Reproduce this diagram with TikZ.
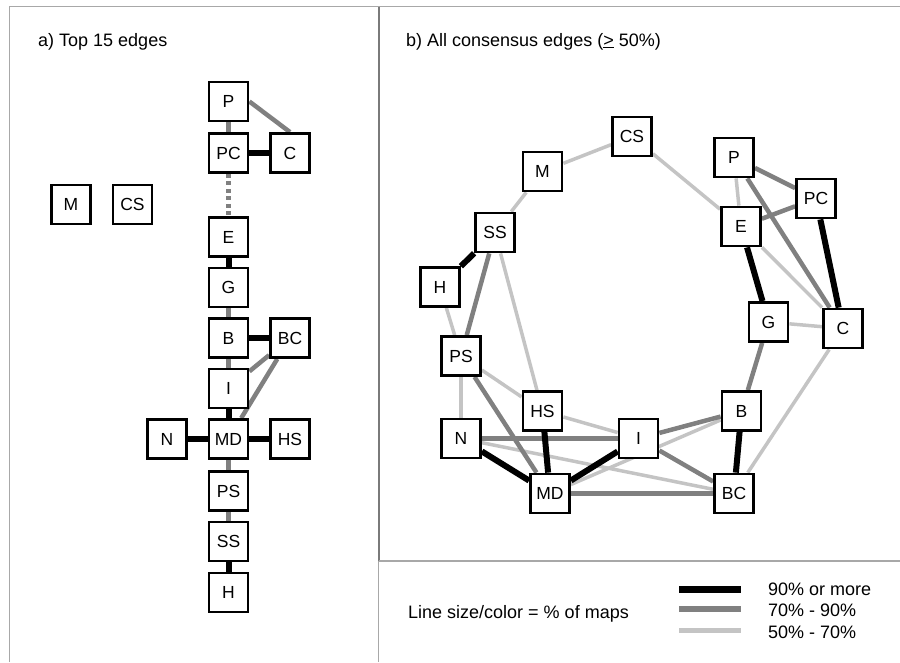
\documentclass[tikz,border=0pt]{standalone}
\usepackage{fontspec}
\setmainfont{Liberation Sans}
\usetikzlibrary{backgrounds}
\definecolor{colMid}{HTML}{808080}
\definecolor{colLight}{HTML}{C4C4C4}
\definecolor{colFrame}{HTML}{A8A8A8}
\definecolor{colDiv}{HTML}{7A7A7A}
\begin{document}
\begin{tikzpicture}[x=1pt,y=-1pt,
  box/.style={draw=black,line width=2.8pt,fill=white,minimum size=39pt,inner sep=0pt,font=\fontsize{17.5}{20}\selectfont},
  txt/.style={font=\fontsize{18}{21}\selectfont,inner sep=0pt,anchor=base west},
  hi/.style={line width=6pt,draw=black},
  md/.style={line width=4.5pt,draw=colMid},
  lo/.style={line width=3.5pt,draw=colLight},
  dotedge/.style={line width=4.5pt,draw=colMid,dash pattern=on 4pt off 3.5pt},
  frameline/.style={draw=colFrame,line width=1.6pt},
  divline/.style={draw=colDiv,line width=2pt}
]
\useasboundingbox (0,0) rectangle (900,662);

% frame
\draw[frameline] (9.5,662) -- (9.5,6.5) -- (900,6.5);
\draw[frameline] (378.5,561) -- (378.5,662);
\draw[divline] (378.5,6.5) -- (378.5,561);
\draw[frameline] (378.5,561) -- (900,561);

% titles
\node[txt] (ta) at (38,46) {a) Top 15 edges};
\node[txt] (tb) at (406,46) {b) All consensus edges (\underline{>} 50\%)};

% ---------- panel a ----------
\node[box] (aP)  at (228.5,101.5) {P};
\node[box] (aPC) at (228.5,153) {PC};
\node[box] (aC)  at (290,153) {C};
\node[box] (aM)  at (71,204.5) {M};
\node[box] (aCS) at (132.5,204.5) {CS};
\node[box] (aE)  at (228.5,237) {E};
\node[box] (aG)  at (228.5,287.5) {G};
\node[box] (aB)  at (228.5,338) {B};
\node[box] (aBC) at (290,338) {BC};
\node[box] (aI)  at (228.5,388.5) {I};
\node[box] (aMD) at (228.5,439) {MD};
\node[box] (aN)  at (167,439) {N};
\node[box] (aHS) at (290,439) {HS};
\node[box] (aPS) at (228.5,491) {PS};
\node[box] (aSS) at (228.5,541.5) {SS};
\node[box] (aH)  at (228.5,592.5) {H};

\begin{scope}[on background layer]
\draw[md] (aP.east) -- (aC.north);
\draw[md] (aP) -- (aPC);
\draw[hi] (aPC) -- (aC);
\draw[dotedge] (aPC.south) -- (aE.north);
\draw[hi] (aE) -- (aG);
\draw[md] (aG) -- (aB);
\draw[hi] (aB) -- (aBC);
\draw[md] (aB) -- (aI);
\draw[md] (aI) -- (aBC);
\draw[md] (aMD) -- (aBC);
\draw[hi] (aI) -- (aMD);
\draw[hi] (aN) -- (aMD);
\draw[hi] (aMD) -- (aHS);
\draw[md] (aMD) -- (aPS);
\draw[md] (aPS) -- (aSS);
\draw[hi] (aSS) -- (aH);
\end{scope}

% ---------- panel b ----------
\node[box] (bCS) at (632,136.5) {CS};
\node[box] (bM)  at (542.5,171.5) {M};
\node[box] (bSS) at (495,232.5) {SS};
\node[box] (bH)  at (440,287) {H};
\node[box] (bPS) at (461,356) {PS};
\node[box] (bP)  at (734,157.5) {P};
\node[box] (bPC) at (816,198.5) {PC};
\node[box] (bE)  at (741,226.5) {E};
\node[box] (bG)  at (768.5,322) {G};
\node[box] (bC)  at (843,328.5) {C};
\node[box] (bHS) at (542.5,411) {HS};
\node[box] (bN)  at (461,438.5) {N};
\node[box] (bI)  at (638.5,438.5) {I};
\node[box] (bB)  at (741.5,411) {B};
\node[box] (bMD) at (550,493.5) {MD};
\node[box] (bBC) at (734,493.5) {BC};

\begin{scope}[on background layer]
% light
\draw[lo] (bCS) -- (bM);
\draw[lo] (bCS) -- (bE);
\draw[lo] (bM) -- (bSS);
\draw[lo] (bSS) -- (bHS);
\draw[lo] (bH) -- (bPS);
\draw[lo] (bPS) -- (bN);
\draw[lo] (bPS) -- (bHS);
\draw[lo] (bHS) -- (bI);
\draw[lo] (bN) -- (bBC);
\draw[lo] (bMD) -- (bB);
\draw[lo] (bBC) -- (bC);
\draw[lo] (bG) -- (bC);
\draw[lo] (bE) -- (bC);
\draw[lo] (bP) -- (bE);
% mid
\draw[md] (bSS) -- (bPS);
\draw[md] (bPS) -- (bMD);
\draw[md] (bN) -- (bI);
\draw[md] (bI) -- (bB);
\draw[md] (bI) -- (bBC);
\draw[md] (bMD) -- (bBC);
\draw[md] (bG) -- (bB);
\draw[md] (bP) -- (bC);
\draw[md] (bP) -- (bPC);
\draw[md] (bPC) -- (bE);
% heavy
\draw[hi] (bSS) -- (bH);
\draw[hi] (bN) -- (bMD);
\draw[hi] (bHS) -- (bMD);
\draw[hi] (bI) -- (bMD);
\draw[hi] (bB) -- (bBC);
\draw[hi] (bE) -- (bG);
\draw[hi] (bPC) -- (bC);
\end{scope}

% ---------- legend ----------
\node[txt] (leg) at (408,618) {Line size/color = \% of maps};
\coordinate (l1a) at (679,589); \coordinate (l1b) at (741,589);
\coordinate (l2a) at (679,609); \coordinate (l2b) at (741,609);
\coordinate (l3a) at (679,630); \coordinate (l3b) at (741,630);
\draw[line width=7pt,draw=black] (l1a) -- (l1b);
\draw[line width=5.5pt,draw=colMid] (l2a) -- (l2b);
\draw[line width=5pt,draw=colLight] (l3a) -- (l3b);
\node[txt] (lt1) at (768,595) {90\% or more};
\node[txt] (lt2) at (768,616) {70\% - 90\%};
\node[txt] (lt3) at (768,638) {50\% - 70\%};
\end{tikzpicture}
\end{document}
